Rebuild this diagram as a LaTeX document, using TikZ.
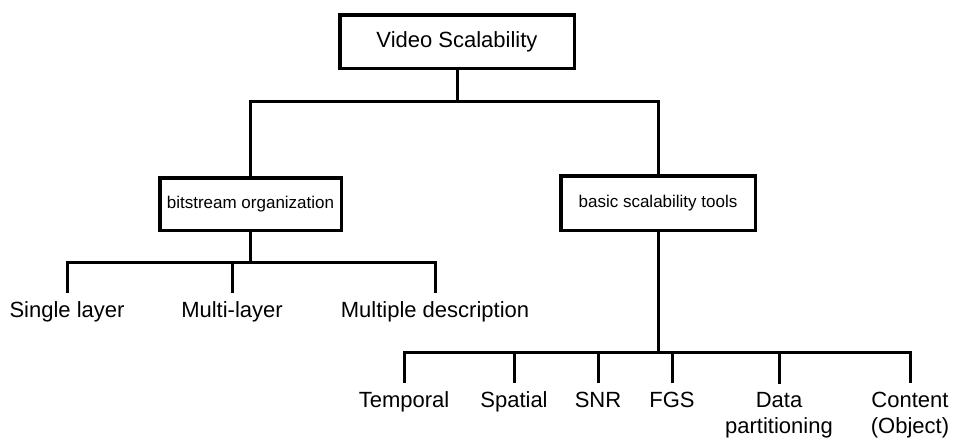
\documentclass[tikz,border=0pt]{standalone}
\usepackage{fontspec}
\setmainfont{Liberation Sans}
\tikzset{
box/.style={draw, line width=3.5pt, inner sep=0pt, font=\fontsize{17pt}{20pt}\selectfont}, % framed nodes
leaf/.style={anchor=base, align=center, inner xsep=0pt, inner ysep=8pt, font=\fontsize{22pt}{26pt}\selectfont}, % labels under the ticks
link/.style={line width=3pt}  % tree lines
}

\begin{document}
\begin{tikzpicture}[x=1pt,y=-1pt]
  \useasboundingbox (0,0) rectangle (954,442);
  \node[box, minimum width=234.5, minimum height=53.5, font=\fontsize{22pt}{26pt}\selectfont] (vs) at (457,41.5) {Video Scalability};
  \node[box, minimum width=181.5, minimum height=52.5] (bo) at (250.5,204) {bitstream organization};
  \node[box, minimum width=194.5, minimum height=54.5] (bst) at (658,203) {basic scalability tools};
  \coordinate (t) at (457,101);
  \coordinate (l) at (250.5,262);
  \coordinate (r) at (658,352);
  \draw[link] (vs.south) -- (t);
  \draw[link] (bo.north) |- (t) -| (bst.north);
  % left branch
  \node[leaf] (sl) at (67,317) {Single layer};
  \node[leaf] (ml) at (232,317) {Multi-layer};
  \node[leaf] (md) at (435,317) {Multiple description};
  \draw[link] (bo.south) -- (l);
  \draw[link] (sl.north) |- (l) -| (md.north);
  \draw[link] (ml.north) -- (ml.north |- l);
  % right branch
  \node[leaf] (tp) at (404,407) {Temporal};
  \node[leaf] (sp) at (514,407) {Spatial};
  \node[leaf] (snr) at (598,407) {SNR};
  \node[leaf] (fgs) at (672,407) {FGS};
  \node[leaf] (dp) at (779,433) {Data\\partitioning};
  \node[leaf] (ct) at (910,433) {Content\\(Object)};
  \draw[link] (bst.south) -- (r);
  \draw[link] (tp.north) |- (r) -| (ct.north);
  \foreach \n in {sp,snr,fgs,dp}
    \draw[link] (\n.north) -- (\n.north |- r);
\end{tikzpicture}
\end{document}
